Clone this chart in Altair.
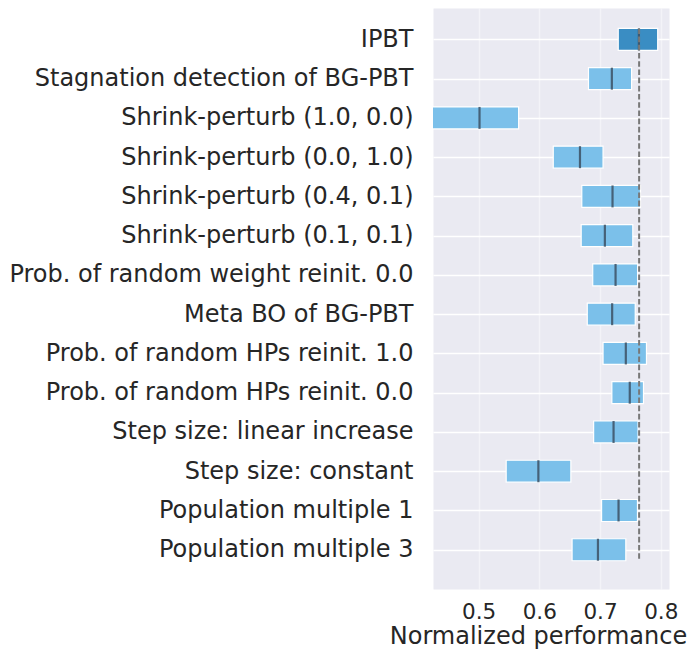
import json
import altair as alt
import pandas as pd

labels = [
    "IPBT",
    "Stagnation detection of BG-PBT",
    "Shrink-perturb (1.0, 0.0)",
    "Shrink-perturb (0.0, 1.0)",
    "Shrink-perturb (0.4, 0.1)",
    "Shrink-perturb (0.1, 0.1)",
    "Prob. of random weight reinit. 0.0",
    "Meta BO of BG-PBT",
    "Prob. of random HPs reinit. 1.0",
    "Prob. of random HPs reinit. 0.0",
    "Step size: linear increase",
    "Step size: constant",
    "Population multiple 1",
    "Population multiple 3",
]
lows = [0.730, 0.681, 0.420, 0.623, 0.670, 0.669, 0.688, 0.679, 0.705, 0.7195, 0.6895, 0.5455, 0.7026, 0.654]
highs = [0.795, 0.752, 0.566, 0.705, 0.7667, 0.754, 0.762, 0.758, 0.7765, 0.7716, 0.7627, 0.652, 0.7617, 0.7425]
medians = [0.764, 0.7195, 0.5016, 0.667, 0.7206, 0.708, 0.7256, 0.720, 0.7425, 0.749, 0.7223, 0.5985, 0.7305, 0.6966]
reference = 0.7644
x_ticks = [0.5, 0.6, 0.7, 0.8]

HALF = 0.28
n = len(labels)

df = pd.DataFrame({
    "label": labels,
    "row": list(range(n)),
    "low": lows,
    "high": highs,
    "median": medians,
    "group": ["IPBT" if l == "IPBT" else "other" for l in labels],
})
ref_df = pd.DataFrame({"ref": [reference]})

FONT = "DejaVu Sans"
label_expr = "[" + ",".join(json.dumps(l) for l in labels) + "][datum.value]"

xscale = alt.Scale(domain=[0.425, 0.8136], nice=False, zero=False)
yscale = alt.Scale(domain=[-0.8, n], reverse=True, nice=False, zero=False)

xaxis = alt.Axis(
    values=x_ticks, format=".1f", title="Normalized performance",
    labelFontSize=21.5, titleFontSize=24, titleFontWeight="normal",
    labelColor="#262626", titleColor="#262626", labelFont=FONT, titleFont=FONT,
    domain=False, ticks=False, labelPadding=12, titlePadding=2,
    titleX=105, titleAlign="center", titleAnchor="middle",
    gridColor="white", gridOpacity=0.45, gridWidth=1.5,
)
yaxis = alt.Axis(
    values=list(range(n)), labelExpr=label_expr, title=None,
    labelFontSize=24, labelColor="#262626", labelFont=FONT,
    domain=False, ticks=False, labelPadding=20,
    gridColor="white", gridWidth=1.5, labelLimit=1000,
)

base = alt.Chart(df).transform_calculate(
    y0="datum.row - %f" % HALF, y1="datum.row + %f" % HALF
)

bars = base.mark_bar(stroke="white", strokeWidth=1.2, clip=True).encode(
    x=alt.X("low:Q", scale=xscale, axis=xaxis),
    x2="high:Q",
    y=alt.Y("y0:Q", scale=yscale, axis=yaxis),
    y2="y1:Q",
    color=alt.Color("group:N", scale=alt.Scale(domain=["IPBT", "other"], range=["#3a8dc3", "#7bc0ea"]), legend=None),
)

med = base.mark_rule(strokeWidth=2.2, color="#3c5064", opacity=0.85).encode(
    x="median:Q", y="y0:Q", y2="y1:Q"
)

ref = alt.Chart(ref_df).mark_rule(color="#787878", strokeWidth=2.0, strokeDash=[5.6, 2.6]).encode(
    x="ref:Q", y=alt.datum(-HALF), y2=alt.datum(n - 1 + HALF)
)

chart = alt.layer(bars, med, ref).properties(
    width=236, height=581,
    padding={"left": 0, "top": 0, "right": 0, "bottom": 0},
).configure_view(
    fill="#eaeaf2", stroke="transparent"
).configure_text(font=FONT)

chart.save("out.html", embed_options={"renderer": "svg", "actions": False})
